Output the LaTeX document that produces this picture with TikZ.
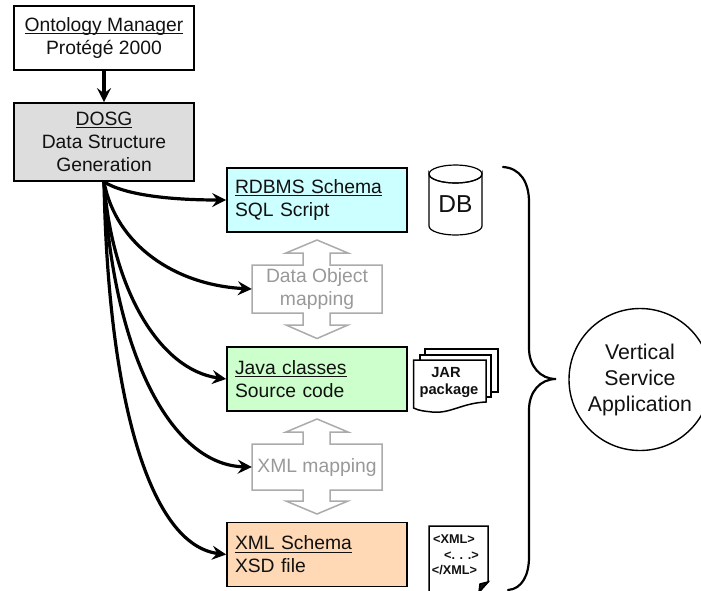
\documentclass[tikz,border=0pt]{standalone}
\usepackage{fontspec}
\setmainfont{Liberation Sans}
\usetikzlibrary{arrows.meta,positioning}
\newcommand{\ulx}[1]{\setbox0\hbox{#1}\rlap{\rule[-2.6pt]{\wd0}{1pt}}\box0}
\definecolor{inkc}{HTML}{111111}
\definecolor{grayline}{HTML}{ABABAB}
\definecolor{graytext}{HTML}{999999}
\definecolor{dosgfill}{HTML}{DDDDDD}
\definecolor{rdbfill}{HTML}{CCFFFF}
\definecolor{javafill}{HTML}{CCFFCC}
\definecolor{xmlfill}{HTML}{FFD9B5}
\tikzset{
  x=1pt,y=-1pt,
  basebox/.style={draw=black,line width=1.7pt,rectangle,inner sep=0pt,text=inkc,
    font=\fontsize{19.3}{23}\selectfont},
  topbox/.style={basebox,minimum width=180pt,align=center},
  sidebox/.style={basebox,minimum width=180pt,minimum height=64pt,text width=164pt,align=left},
  flow/.style={line width=3.2pt,-{Stealth[length=14pt,width=14pt,inset=5pt]}},
  mapshape/.style={draw=grayline,line width=1.5pt,fill=white,line join=miter},
  maptext/.style={inner sep=0pt,text=graytext,align=center,font=\fontsize{19.3}{23}\selectfont,
    minimum width=130pt},
  sheet/.style={draw=black,line width=1.5pt,fill=white},
  smallb/.style={inner sep=0pt,font=\fontsize{14.7}{18}\selectfont\bfseries,text=inkc},
  tinyb/.style={inner sep=0pt,font=\fontsize{12.7}{15}\selectfont\bfseries,text=inkc},
}
\begin{document}
\begin{tikzpicture}
\useasboundingbox (0,0) rectangle (701,590);
\clip (0,0) rectangle (701,590);
% top boxes
\node[topbox,minimum height=64pt] (om) at (104,38) {\ulx{Ontology Manager}\\Protégé 2000};
\node[topbox,minimum height=78pt,fill=dosgfill] (dosg) at (104,142) {\ulx{DOSG}\\Data Structure\\Generation};
% side boxes
\node[sidebox,fill=rdbfill] (rdb) at (317,200) {\ulx{RDBMS Schema}\\SQL Script};
\node[sidebox,fill=javafill] (java) at (317,379) {\ulx{Java classes}\\Source code};
\node[sidebox,fill=xmlfill] (xsd) at (317,554.5) {\ulx{XML Schema}\\XSD file};
% mapping shapes
\draw[mapshape] (303,265) -- (303,253) -- (286,253) -- (317,240) -- (348,253) -- (330,253) -- (330,265)
  -- (382,265) -- (382,313) -- (330,313) -- (330,325) -- (348,325) -- (317,338.5) -- (286,325) -- (303,325) -- (303,313)
  -- (252,313) -- (252,265) -- cycle;
\node[maptext,minimum height=48pt] (dom) at (317,289) {Data Object\\mapping};
\draw[mapshape] (303,444) -- (303,432) -- (286,432) -- (317,419) -- (348,432) -- (330,432) -- (330,444)
  -- (382,444) -- (382,490) -- (330,490) -- (330,501) -- (348,501) -- (317,514) -- (286,501) -- (303,501) -- (303,490)
  -- (252,490) -- (252,444) -- cycle;
\node[maptext,minimum height=46pt] (xm) at (317,467) {XML mapping};
% connectors
\draw[flow] (om.south) -- (dosg.north);
\draw[flow] (dosg.south) .. controls (125,195) and (170,200) .. (rdb.west);
\draw[flow] (dosg.south) .. controls (116,245) and (175,285) .. (dom.west);
\draw[flow] (dosg.south) .. controls (112,290) and (160,370) .. (java.west);
\draw[flow] (dosg.south) .. controls (112,350) and (170,465) .. (xm.west);
\draw[flow] (dosg.south) .. controls (108,400) and (150,545) .. (xsd.west);
% database
\draw[line width=1.2pt,fill=white] (429,174) -- (429,226) arc[start angle=180,end angle=360,x radius=26.5pt,y radius=9pt]
  -- (482,174) arc[start angle=0,end angle=-180,x radius=26.5pt,y radius=9pt] -- cycle;
\draw[line width=1.2pt] (429,174) arc[start angle=180,end angle=540,x radius=26.5pt,y radius=9pt];
\node[inner sep=0pt,text=inkc,font=\fontsize{24.5}{28}\selectfont] (db) at (455.5,204) {DB};
% JAR
\draw[sheet] (425,349) rectangle (498,392);
\draw[sheet] (420,355) rectangle (491,397);
\draw[sheet] (413.5,360) -- (486,360) -- (486,402) .. controls (462,403) and (450,414) .. (432,412) .. controls (424,411) and (420,411) .. (413.5,408) -- cycle;
\node[smallb] (jar) at (446,373) {JAR};
\node[smallb] (pkg) at (449,391) {package};
% XML document
\draw[sheet] (429,592) -- (429,526) -- (488,526) -- (488,582) -- (479,592);
\draw[line width=1.5pt,fill=inkc] (488,582) -- (480,584) -- (479,592) -- cycle;
\node[tinyb] (x1) at (454,539) {<XML>};
\node[tinyb] (x2) at (461.5,556) {<. . .>};
\node[tinyb] (x3) at (454.5,570) {</XML>};
% brace
\draw[line width=2.2pt,line cap=round] (503,167) .. controls (520,168) and (529,182) .. (529,202)
  -- (529,348) .. controls (529,366) and (540,379) .. (556,379)
  .. controls (540,379) and (529,392) .. (529,410)
  -- (529,557) .. controls (529,575) and (522,589) .. (508,590);
% application circle
\node[circle,draw=black,line width=1.4pt,minimum size=142pt,inner sep=0pt,align=center,text=inkc,
  font=\fontsize{21.3}{26}\selectfont] (vsa) at (640,379.5) {Vertical\\Service\\Application};
\end{tikzpicture}
\end{document}
